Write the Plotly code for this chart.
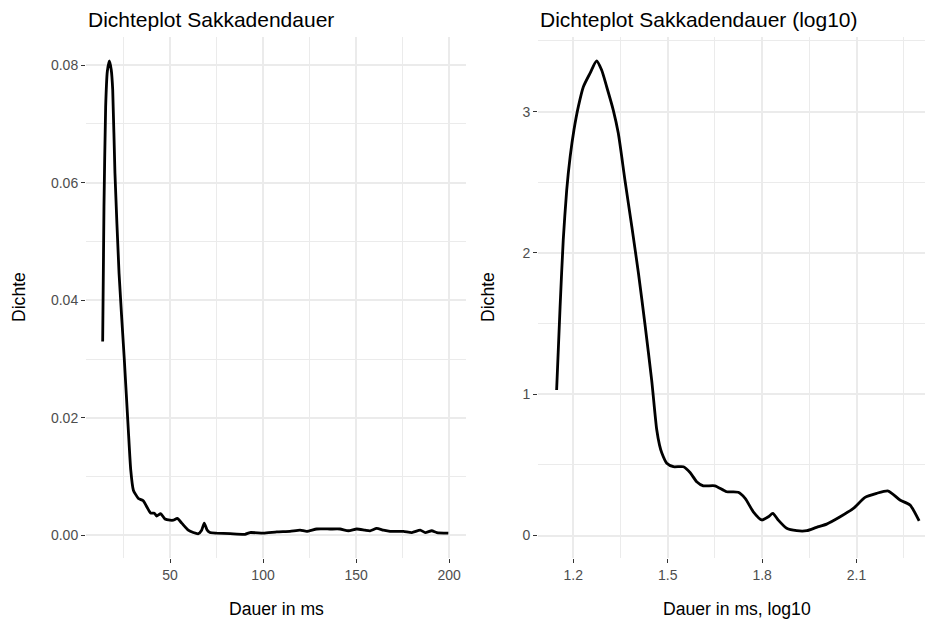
import plotly.graph_objects as go

# Left panel: density of saccade duration (ms)
dur_ms = [13.8, 14.5, 15.4, 16.3, 17.4, 18.4, 19.2, 20.4, 22.6, 25.4, 27.6, 28.9, 30.3, 33.0, 35.6,
          37.5, 39.6, 41.6, 42.8, 45.0, 47.3, 50.0, 51.8, 53.9, 56.3, 59.8, 62.5, 65.2,
          67.0, 68.4, 70.0, 71.5, 75.1, 82.3, 90.3, 93.0, 100.2, 107.4, 114.5, 119.9,
          123.5, 128.9, 136.0, 141.4, 145.9, 150.4, 154.8, 157.5, 161.1, 164.7, 168.3,
          175.5, 180.0, 184.5, 187.2, 190.7, 193.4, 199.6]
dens_ms = [0.0330, 0.0559, 0.0729, 0.0789, 0.0807, 0.0792, 0.0758, 0.0616, 0.0446, 0.0301, 0.0179, 0.0111,
           0.0077, 0.0063, 0.0059, 0.0049, 0.0038, 0.0038, 0.0033, 0.0037, 0.0028, 0.0026,
           0.0026, 0.0029, 0.0021, 0.0009, 0.0005, 0.0003, 0.0009, 0.0021, 0.0009, 0.0005,
           0.0004, 0.0003, 0.0002, 0.0005, 0.0004, 0.0006, 0.0007, 0.0009, 0.0007, 0.0011,
           0.0011, 0.0011, 0.0008, 0.0011, 0.0009, 0.0008, 0.0012, 0.0009, 0.0007, 0.0007,
           0.0005, 0.0009, 0.0005, 0.0008, 0.0005, 0.0004]

# Right panel: density of log10 saccade duration
dur_log = [1.147, 1.158, 1.168, 1.179, 1.190, 1.202, 1.216, 1.232, 1.253, 1.274, 1.290,
           1.306, 1.327, 1.343, 1.364, 1.386, 1.407, 1.428, 1.449, 1.465, 1.474, 1.481, 1.497,
           1.518, 1.550, 1.571, 1.592, 1.613, 1.650, 1.687, 1.724, 1.746, 1.772, 1.799,
           1.820, 1.834, 1.851, 1.878, 1.910, 1.942, 1.973, 2.005, 2.048, 2.090, 2.127,
           2.164, 2.201, 2.238, 2.270, 2.299]
dens_log = [1.030, 1.619, 2.091, 2.445, 2.681, 2.870, 3.035, 3.176, 3.271, 3.358, 3.294,
            3.176, 3.011, 2.846, 2.516, 2.185, 1.856, 1.490, 1.100, 0.750, 0.640, 0.585, 0.511,
            0.487, 0.487, 0.446, 0.381, 0.352, 0.352, 0.310, 0.306, 0.263, 0.168, 0.110,
            0.133, 0.157, 0.110, 0.051, 0.034, 0.034, 0.058, 0.081, 0.133, 0.192, 0.270,
            0.299, 0.315, 0.251, 0.216, 0.103]

x_ticks_ms = [50, 100, 150, 200]
x_minor_ms = [25, 75, 125, 175]
y_ticks_ms = [0.00, 0.02, 0.04, 0.06, 0.08]
y_ticktext_ms = ["0.00", "0.02", "0.04", "0.06", "0.08"]
y_minor_ms = [0.01, 0.03, 0.05, 0.07]

x_ticks_log = [1.2, 1.5, 1.8, 2.1]
x_minor_log = [1.05, 1.35, 1.65, 1.95, 2.25]
y_ticks_log = [0, 1, 2, 3]
y_minor_log = [0.5, 1.5, 2.5, 3.5]

# the page body has an 8px margin; size the figure to the visible area
OFF = 8
W, H = 933 - OFF, 623 - OFF
FONT = "Liberation Sans, Arial, Helvetica, sans-serif"
GRID = "#EBEBEB"

def px_x(p):
    return (p - OFF) / W

def px_y(p):
    return 1 - (p - OFF) / H

fig = go.Figure()
fig.add_trace(go.Scatter(x=dur_ms, y=dens_ms, mode="lines",
                         line=dict(color="black", width=2.8, shape="spline", smoothing=0.5),
                         xaxis="x", yaxis="y", showlegend=False, hoverinfo="skip"))
fig.add_trace(go.Scatter(x=dur_log, y=dens_log, mode="lines",
                         line=dict(color="black", width=2.8, shape="spline", smoothing=0.6),
                         xaxis="x2", yaxis="y2", showlegend=False, hoverinfo="skip"))

def axis_common():
    return dict(showgrid=True, gridcolor=GRID, gridwidth=1.6, zeroline=False,
                showline=False, ticks="outside", ticklen=4, tickwidth=1.2,
                tickcolor="#333333", tickfont=dict(family=FONT, size=14, color="#4D4D4D"),
                fixedrange=True)

ydom = [px_y(558), px_y(37)]

fig.update_layout(
    width=W, height=H,
    margin=dict(l=0, r=0, t=0, b=0),
    paper_bgcolor="white", plot_bgcolor="white",
    font=dict(family=FONT),
    xaxis=dict(domain=[px_x(86), px_x(466)], range=[4.84, 209.1], anchor="y",
               tickvals=x_ticks_ms, ticktext=[str(v) for v in x_ticks_ms],
               minor=dict(tickvals=x_minor_ms, showgrid=True, gridcolor=GRID, gridwidth=0.8, ticks=""),
               **axis_common()),
    yaxis=dict(domain=ydom, range=[-0.00383, 0.08477], anchor="x",
               tickvals=y_ticks_ms, ticktext=y_ticktext_ms,
               minor=dict(tickvals=y_minor_ms, showgrid=True, gridcolor=GRID, gridwidth=0.8, ticks=""),
               **axis_common()),
    xaxis2=dict(domain=[px_x(538), 1.0], range=[1.0878, 2.343], anchor="y2",
                tickvals=x_ticks_log, ticktext=["1.2", "1.5", "1.8", "2.1"],
                minor=dict(tickvals=x_minor_log, showgrid=True, gridcolor=GRID, gridwidth=0.8, ticks=""),
                **axis_common()),
    yaxis2=dict(domain=ydom, range=[-0.159, 3.528], anchor="x2",
                tickvals=y_ticks_log, ticktext=[str(v) for v in y_ticks_log],
                minor=dict(tickvals=y_minor_log, showgrid=True, gridcolor=GRID, gridwidth=0.8, ticks=""),
                **axis_common()),
)

annots = [
    dict(text="Dichteplot Sakkadendauer", x=px_x(86), y=px_y(19), xanchor="left", yanchor="middle",
         font=dict(size=21, color="black")),
    dict(text="Dichteplot Sakkadendauer (log10)", x=px_x(538), y=px_y(19), xanchor="left", yanchor="middle",
         font=dict(size=21, color="black")),
    dict(text="Dauer in ms", x=px_x(276), y=px_y(609), xanchor="center", yanchor="middle",
         font=dict(size=17.6, color="black")),
    dict(text="Dauer in ms, log10", x=px_x(737), y=px_y(609), xanchor="center", yanchor="middle",
         font=dict(size=17.6, color="black")),
    dict(text="Dichte", x=px_x(19), y=px_y(297), xanchor="center", yanchor="middle", textangle=-90,
         font=dict(size=17.6, color="black")),
    dict(text="Dichte", x=px_x(488), y=px_y(297), xanchor="center", yanchor="middle", textangle=-90,
         font=dict(size=17.6, color="black")),
]
for a in annots:
    a.update(xref="paper", yref="paper", showarrow=False)
    a["font"]["family"] = FONT
fig.update_layout(annotations=annots)

fig.write_html("out.html")
